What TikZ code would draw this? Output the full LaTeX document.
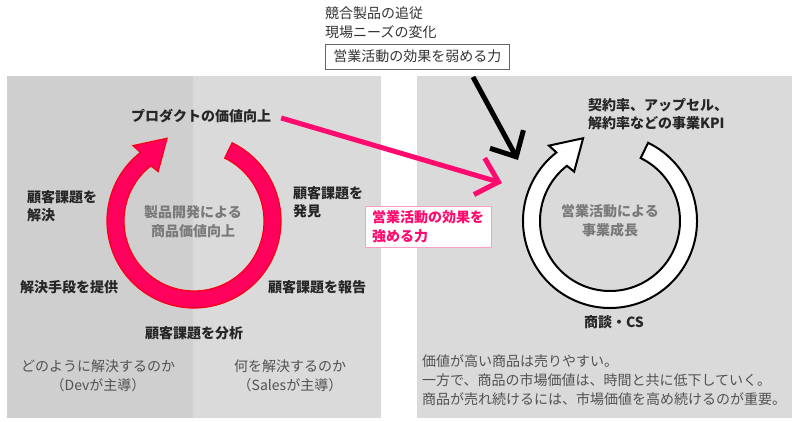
\documentclass[tikz,border=0pt]{standalone}
\usepackage{fontspec}
\setmainfont{Noto Sans CJK JP}
\usetikzlibrary{positioning,arrows.meta}

\definecolor{panelshade}{RGB}{207,207,207}
\definecolor{panelbase}{RGB}{218,218,218}
\definecolor{loopfill}{RGB}{255,0,92}
\definecolor{loopedge}{RGB}{250,0,20}
\definecolor{boostpink}{RGB}{255,10,110}

\begin{document}
\begin{tikzpicture}
[
  x=1pt, y=1pt,
  font=\fontsize{14}{19}\selectfont,
  stage/.style={text=black!85, font=\fontsize{14}{18}\selectfont\bfseries, inner sep=0pt, align=left},
  core/.style={text=black!52, font=\fontsize{14}{19}\selectfont\bfseries, inner sep=0pt, align=center},
  remark/.style={text=black!68, inner sep=0pt, align=center},
  redring/.style={fill=loopfill, draw=loopedge, line width=1.2pt},
  whitering/.style={fill=white, draw=black, line width=2pt},
  weakbox/.style={draw=black!60, fill=white, text=black!80, line width=0.9pt, inner xsep=8pt, minimum height=25pt},
  strongbox/.style={draw=boostpink!40, fill=white, text=boostpink, line width=0.9pt, font=\fontsize{14}{19}\selectfont\bfseries, align=left, inner xsep=7pt, inner ysep=4pt},
  force/.style={line width=5pt, -{Straight Barb[length=20pt,width=38pt]}}
]
 \useasboundingbox (0,0) rectangle (800,422);

 % panels
 \fill[panelshade] (7,4) rectangle (193,346);
 \fill[panelbase] (193,4) rectangle (381,346);
 \fill[panelbase] (417,4) rectangle (792,346);

 % cycles
 \coordinate (devloop) at (194,201);
 \coordinate (salesloop) at (610,201);
 \foreach \c/\look in {devloop/redring, salesloop/whitering}
   \draw[\look, shift={(\c)}] (64:87) arc[start angle=64, end angle=-232, radius=87]
     -- (129:97) -- (108:87) -- (126:61) -- (-232:70)
     arc[start angle=-232, end angle=64, radius=70] -- cycle;

 % development side
 \node[stage] (product) at (201,306) {プロダクトの価値向上};
 \node[stage, anchor=west] (solve) at (27,216) {顧客課題を\\解決};
 \node[stage, anchor=west] (find) at (293,220) {顧客課題を\\発見};
 \node[stage] (provide) at (69,135) {解決手段を提供};
 \node[stage] (report) at (317,135) {顧客課題を報告};
 \node[stage] (analyse) at (194,89) {顧客課題を分析};
 \node[core] (devcore) at (193,200) {製品開発による\\商品価値向上};
 \node[remark] (how) at (98,46) {どのように解決するのか\\（Devが主導）};
 \node[remark] (what) at (290,46) {何を解決するのか\\（Salesが主導）};

 % sales side
 \node[stage, anchor=west] (kpi) at (588,308) {契約率、アップセル、\\解約率などの事業KPI};
 \node[core] (salescore) at (610,201) {営業活動による\\事業成長};
 \node[stage] (meeting) at (614,100) {商談・CS};
 \node[remark, anchor=west, align=left] (lesson) at (422,42) {価値が高い商品は売りやすい。\\一方で、商品の市場価値は、時間と共に低下していく。\\商品が売れ続けるには、市場価値を高め続けるのが重要。};

 % forces
 \node[remark, anchor=west, align=left, text=black!80] (factors) at (325,399) {競合製品の追従\\現場ニーズの変化};
 \node[weakbox, below right=4.5pt and 0pt of factors.south west] (weak) {営業活動の効果を弱める力};
 \node[strongbox] (strong) at (428,195) {営業活動の効果を\\強める力};

 \coordinate (drag) at (473,345);
 \coordinate (dragtip) at (518,262);
 \coordinate (boost) at (502,239);
 \draw[force] (drag) -- (dragtip);
 \draw[force, boostpink] ([xshift=10pt,yshift=-2pt]product.east) -- (boost);
\end{tikzpicture}
\end{document}
